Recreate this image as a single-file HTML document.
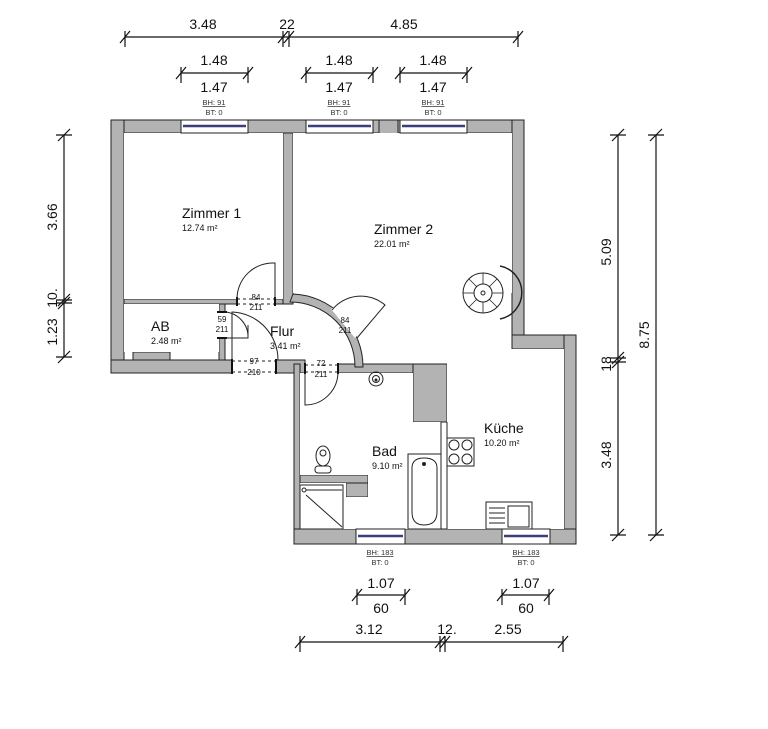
<!DOCTYPE html>
<html><head><meta charset="utf-8"><style>
html,body{margin:0;padding:0;background:#fff;}
svg{display:block;font-family:"Liberation Sans",sans-serif;}
</style></head><body>
<svg width="768" height="729" viewBox="0 0 768 729" xmlns="http://www.w3.org/2000/svg">
<g fill="#b3b3b3" stroke="#222" stroke-width="1">
<rect x="111" y="120" width="413" height="13"/>
<rect x="111" y="120" width="13" height="253"/>
<rect x="111" y="360" width="121" height="13"/>
<rect x="124" y="299" width="113" height="5"/>
<rect x="275" y="299" width="18" height="5"/>
<rect x="283" y="133" width="10" height="171"/>
<rect x="219" y="304" width="6" height="8"/>
<rect x="219" y="338" width="6" height="22"/>
<rect x="276" y="360" width="29" height="13"/>
<rect x="294" y="364" width="6" height="180"/>
<rect x="338" y="364" width="109" height="9"/>
<rect x="413" y="364" width="34" height="58"/>
<rect x="512" y="120" width="12" height="229"/>
<rect x="512" y="335" width="64" height="14"/>
<rect x="564" y="335" width="12" height="209"/>
<rect x="294" y="529" width="282" height="15"/>
<rect x="379" y="120" width="19" height="23"/>
<rect x="346" y="423" width="22" height="74"/>
<rect x="300" y="475" width="68" height="8"/>
<rect x="133" y="352" width="37" height="8"/>
<path d="M293,294 A73,73 0 0 1 363,367 L355,367 A65,65 0 0 0 290,302 Z"/>
</g>
<!-- wall cleanups -->
<rect x="124" y="133" width="159" height="166" fill="#fff"/>
<rect x="293" y="133" width="219" height="160" fill="#fff"/>
<rect x="124" y="304" width="95" height="48" fill="#fff"/>
<rect x="447" y="349" width="117" height="180" fill="#fff"/>
<rect x="300" y="373" width="113" height="102" fill="#fff"/>
<rect x="368" y="422" width="73" height="107" fill="#fff"/>
<rect x="300" y="483" width="46" height="46" fill="#fff"/>
<rect x="346" y="497" width="22" height="32" fill="#fff"/>
<line x1="441" y1="422" x2="441" y2="529" stroke="#222"/>
<line x1="447" y1="422" x2="447" y2="529" stroke="#222"/>
<!-- door openings (white) -->
<g fill="#fff">
<rect x="237" y="298" width="38" height="7"/>
<rect x="218" y="312" width="8" height="26"/>
<rect x="232" y="359" width="44" height="15"/>
<rect x="305" y="363" width="33" height="11"/>
<path d="M331,309 L339,304 L362,330 L355,338 Z"/>
</g>
<g stroke="#222" stroke-width="1" fill="none" stroke-dasharray="3,3">
<line x1="237" y1="299" x2="275" y2="299"/><line x1="237" y1="304" x2="275" y2="304"/>
<line x1="232" y1="361" x2="276" y2="361"/><line x1="232" y1="372" x2="276" y2="372"/>
<line x1="305" y1="365" x2="338" y2="365"/><line x1="305" y1="372" x2="338" y2="372"/>
</g>
<g stroke="#111" stroke-width="2">
<line x1="237" y1="297" x2="237" y2="306"/><line x1="275" y1="297" x2="275" y2="306"/>
<line x1="232" y1="359" x2="232" y2="374"/><line x1="276" y1="359" x2="276" y2="374"/>
<line x1="305" y1="363" x2="305" y2="374"/><line x1="338" y1="363" x2="338" y2="374"/>
<line x1="217" y1="312" x2="227" y2="312"/><line x1="217" y1="338" x2="227" y2="338"/>
</g>
<!-- door leaves -->
<g stroke="#222" stroke-width="1" fill="none">
<path d="M275,299 V263 A36,36 0 0 0 237,299"/>
<path d="M232,360 V312 A48,48 0 0 1 278,360"/>
<path d="M225,312 A25,25 0 0 1 248,338 H225 M248,325 V338"/>
<path d="M305,373 V405 A33,33 0 0 0 338,373"/>
<path d="M357,338 L385,305 A37,37 0 0 0 332,310"/>
</g>
<!-- windows -->
<g fill="#fff" stroke="#222" stroke-width="1">
<rect x="181" y="120" width="67" height="13"/>
<rect x="306" y="120" width="67" height="13"/>
<rect x="400" y="120" width="67" height="13"/>
<rect x="356" y="529" width="49" height="15"/>
<rect x="502" y="529" width="48" height="15"/>
</g>
<g stroke="#3a3f7a" stroke-width="2.5">
<line x1="183" y1="126" x2="246" y2="126"/><line x1="308" y1="126" x2="371" y2="126"/><line x1="402" y1="126" x2="465" y2="126"/>
<line x1="358" y1="536" x2="403" y2="536"/><line x1="504" y1="536" x2="548" y2="536"/>
</g>
<!-- fixtures -->
<g stroke="#222" stroke-width="1" fill="none">
<rect x="408" y="454" width="33" height="75" fill="#fff"/>
<path d="M412,468 Q412,458 424,458 Q437,458 437,468 V512 Q437,525 424,525 Q412,525 412,512 Z"/>
<circle cx="424" cy="464" r="1.5" fill="#222"/>
<rect x="447" y="438" width="27" height="28"/>
<circle cx="454" cy="445" r="5"/><circle cx="467" cy="445" r="5"/><circle cx="454" cy="459" r="5"/><circle cx="467" cy="459" r="5"/>
<rect x="486" y="502" width="46" height="27"/>
<rect x="508" y="506" width="21" height="21"/>
<path d="M489,508 H505 M489,513 H505 M489,518 H505 M489,523 H505"/>
<rect x="300" y="485" width="43" height="44"/>
<line x1="306" y1="495" x2="342" y2="527"/><line x1="306" y1="490" x2="342" y2="490"/>
<circle cx="304" cy="490" r="2"/>
<ellipse cx="323" cy="456" rx="7" ry="10"/><ellipse cx="323" cy="453" rx="3" ry="3"/>
<rect x="315" y="466" width="16" height="7" rx="3"/>
<circle cx="376" cy="379" r="7"/><circle cx="376" cy="379" r="3.5"/><circle cx="376" cy="380" r="1" fill="#222"/>
<path d="M500,266 A27,27 0 0 1 500,319" stroke-width="1.5"/>
<circle cx="483" cy="293" r="20"/><circle cx="483" cy="293" r="9"/><circle cx="483" cy="293" r="2"/>
<g stroke-width="0.8">
<line x1="483" y1="273" x2="483" y2="284"/><line x1="497" y1="279" x2="489" y2="287"/><line x1="503" y1="293" x2="492" y2="293"/><line x1="497" y1="307" x2="489" y2="299"/><line x1="483" y1="313" x2="483" y2="302"/><line x1="469" y1="307" x2="477" y2="299"/><line x1="463" y1="293" x2="474" y2="293"/><line x1="469" y1="279" x2="477" y2="287"/>
</g>
</g>
<!-- room labels -->
<g fill="#111">
<text x="182" y="218" font-size="14">Zimmer 1</text>
<text x="182" y="231" font-size="9">12.74 m²</text>
<text x="374" y="234" font-size="14">Zimmer 2</text>
<text x="374" y="247" font-size="9">22.01 m²</text>
<text x="151" y="331" font-size="14">AB</text>
<text x="151" y="344" font-size="9">2.48 m²</text>
<text x="270" y="336" font-size="14">Flur</text>
<text x="270" y="349" font-size="9">3.41 m²</text>
<text x="372" y="456" font-size="14">Bad</text>
<text x="372" y="469" font-size="9">9.10 m²</text>
<text x="484" y="433" font-size="14">Küche</text>
<text x="484" y="446" font-size="9">10.20 m²</text>
</g>
<!-- door labels -->
<g fill="#111" font-size="8" text-anchor="middle">
<text x="256" y="300">84</text><text x="256" y="310">211</text>
<text x="222" y="322">59</text><text x="222" y="332">211</text>
<text x="254" y="364">97</text><text x="254" y="375">210</text>
<text x="321" y="366">72</text><text x="321" y="377">211</text>
<text x="345" y="323">84</text><text x="345" y="333">211</text>
</g>
<!-- window labels -->
<g fill="#333" font-size="7.5" text-anchor="middle">
<text x="214" y="105" text-decoration="underline">BH: 91</text><text x="214" y="115">BT: 0</text>
<text x="339" y="105" text-decoration="underline">BH: 91</text><text x="339" y="115">BT: 0</text>
<text x="433" y="105" text-decoration="underline">BH: 91</text><text x="433" y="115">BT: 0</text>
<text x="380" y="555" text-decoration="underline">BH: 183</text><text x="380" y="565">BT: 0</text>
<text x="526" y="555" text-decoration="underline">BH: 183</text><text x="526" y="565">BT: 0</text>
</g>
<!-- dimension lines -->
<g stroke="#111" stroke-width="1.2" fill="none">
<line x1="125" y1="37" x2="518" y2="37"/>
<path d="M120,43 L130,31 M125,31 V47 M278,43 L288,31 M283,31 V47 M284,43 L294,31 M289,31 V47 M513,43 L523,31 M518,31 V47"/>
<line x1="181" y1="73" x2="248" y2="73"/><path d="M176,79 L186,67 M181,67 V83 M243,79 L253,67 M248,67 V83"/>
<line x1="306" y1="73" x2="373" y2="73"/><path d="M301,79 L311,67 M306,67 V83 M368,79 L378,67 M373,67 V83"/>
<line x1="400" y1="73" x2="467" y2="73"/><path d="M395,79 L405,67 M400,67 V83 M462,79 L472,67 M467,67 V83"/>
<line x1="64" y1="135" x2="64" y2="357"/>
<path d="M58,141 L70,129 M56,135 H72 M58,306 L70,294 M56,300 H72 M58,309 L70,297 M56,303 H72 M58,363 L70,351 M56,357 H72"/>
<line x1="618" y1="135" x2="618" y2="535"/>
<path d="M612,141 L624,129 M610,135 H626 M612,364 L624,352 M610,358 H626 M612,368 L624,356 M610,362 H626 M612,541 L624,529 M610,535 H626"/>
<line x1="656" y1="135" x2="656" y2="535"/>
<path d="M650,141 L662,129 M648,135 H664 M650,541 L662,529 M648,535 H664"/>
<line x1="357" y1="595" x2="405" y2="595"/><path d="M352,601 L362,589 M357,589 V605 M400,601 L410,589 M405,589 V605"/>
<line x1="502" y1="595" x2="549" y2="595"/><path d="M497,601 L507,589 M502,589 V605 M544,601 L554,589 M549,589 V605"/>
<line x1="300" y1="642" x2="563" y2="642"/>
<path d="M295,648 L305,636 M300,636 V652 M435,648 L445,636 M440,636 V652 M440,648 L450,636 M445,636 V652 M558,648 L568,636 M563,636 V652"/>
</g>
<g fill="#111" font-size="14" text-anchor="middle">
<text x="203" y="29">3.48</text><text x="287" y="29">22</text><text x="404" y="29">4.85</text>
<text x="214" y="65">1.48</text><text x="214" y="92">1.47</text>
<text x="339" y="65">1.48</text><text x="339" y="92">1.47</text>
<text x="433" y="65">1.48</text><text x="433" y="92">1.47</text>
<text x="381" y="588">1.07</text><text x="381" y="613">60</text>
<text x="526" y="588">1.07</text><text x="526" y="613">60</text>
<text x="369" y="634">3.12</text><text x="447" y="634">12.</text><text x="508" y="634">2.55</text>
<text transform="translate(57,217) rotate(-90)">3.66</text>
<text transform="translate(57,298) rotate(-90)">10.</text>
<text transform="translate(57,332) rotate(-90)">1.23</text>
<text transform="translate(611,252) rotate(-90)">5.09</text>
<text transform="translate(611,364) rotate(-90)">18</text>
<text transform="translate(611,455) rotate(-90)">3.48</text>
<text transform="translate(649,335) rotate(-90)">8.75</text>
</g>
</svg>
</body></html>
